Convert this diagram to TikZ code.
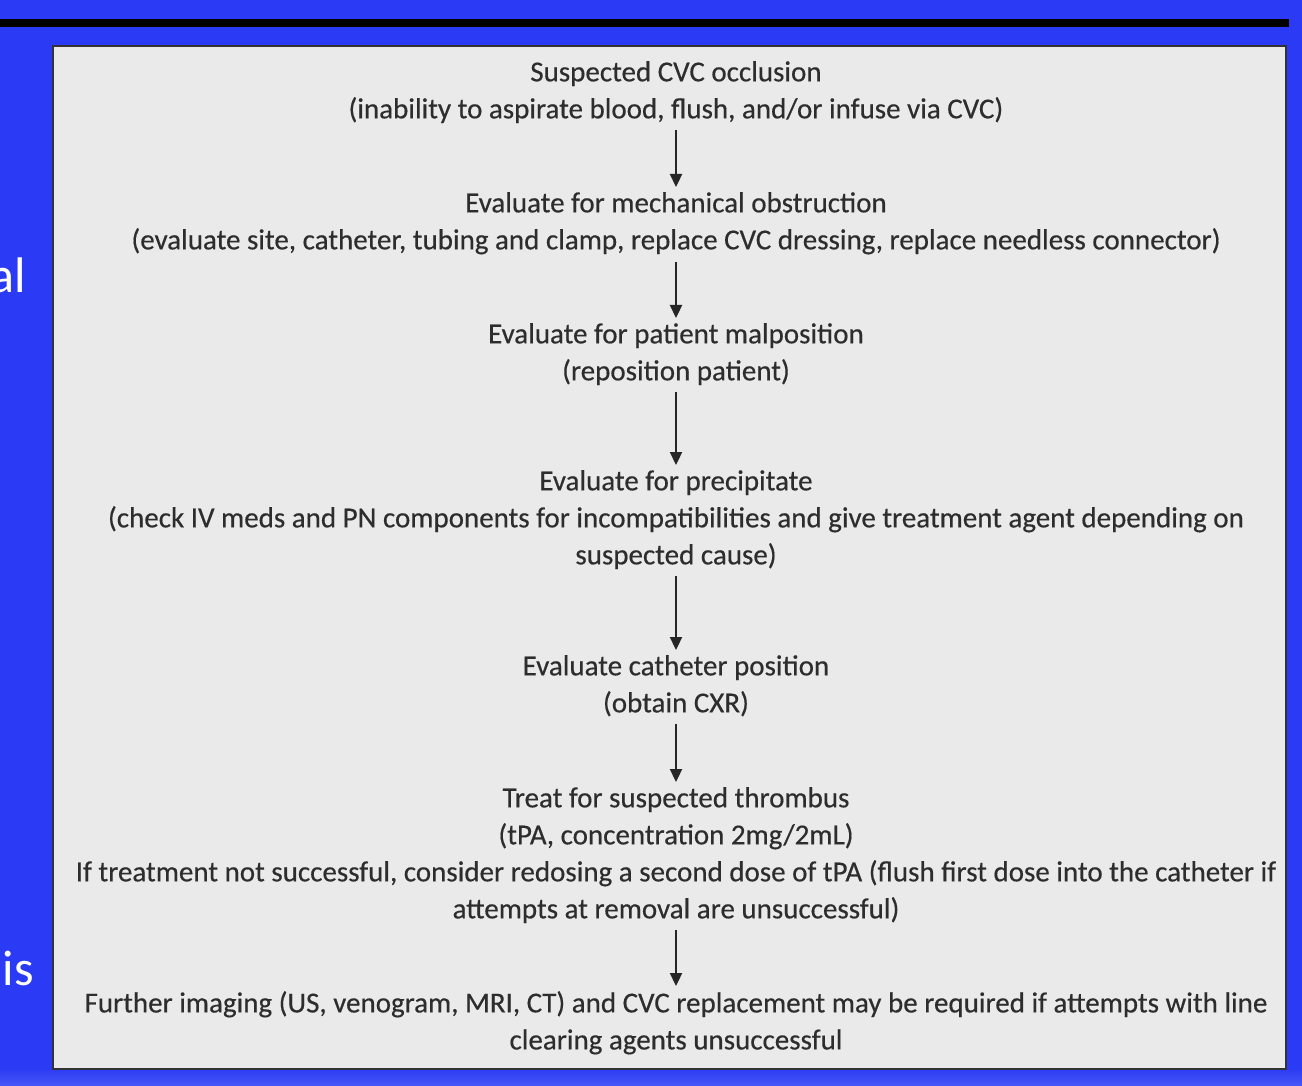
\documentclass[tikz,border=0pt]{standalone}
\usepackage{fontspec}
\setmainfont{Carlito}
\newfontfamily\flowfont[FakeBold=0.4]{Carlito}
\usetikzlibrary{arrows.meta}
\definecolor{bgblue}{RGB}{42,58,245}
\definecolor{bglight}{RGB}{72,88,245}
\definecolor{boxgray}{RGB}{234,234,234}
\definecolor{txtgray}{RGB}{45,45,45}
\begin{document}
\begin{tikzpicture}[x=1pt,y=-1pt,
  txt/.style={anchor=north, inner sep=0pt, align=center, text=txtgray, font=\flowfont\fontsize{29}{37}\selectfont},
  side/.style={anchor=base east, inner sep=0pt, text=white, font=\fontsize{50}{60}\selectfont},
  flow/.style={-{Triangle[length=13pt,width=12pt]}, line width=2.3pt, draw=black!85, shorten <=7pt, shorten >=5pt}]
\fill[bgblue] (0,0) rectangle (1302,1086);
\useasboundingbox (0,0) rectangle (1302,1086);
\shade[top color=bgblue, bottom color=bglight] (0,1068) rectangle (1302,1086);
\fill[black] (0,19) rectangle (1289,27);
\node[side] (s1) at (26,293) {al};
\node[side] (s2) at (3,738) {n};
\node[side] (s3) at (34,985) {is};
\draw[fill=boxgray, draw=black!80, line width=2.5pt] (53,46) rectangle (1286,1069);
\coordinate (ax) at (676,0);
\node[txt] (b1) at (676,61) {Suspected CVC occlusion\\(inability to aspirate blood, flush, and/or infuse via CVC)};
\node[txt] (b2) at (676,192) {Evaluate for mechanical obstruction\\(evaluate site, catheter, tubing and clamp, replace CVC dressing, replace needless connector)};
\node[txt] (b3) at (676,323) {Evaluate for patient malposition\\(reposition patient)};
\node[txt] (b4) at (676,470) {Evaluate for precipitate\\(check IV meds and PN components for incompatibilities and give treatment agent depending on\\suspected cause)};
\node[txt] (b5) at (676,655) {Evaluate catheter position\\(obtain CXR)};
\node[txt] (b6) at (676,787) {Treat for suspected thrombus\\(tPA, concentration 2mg/2mL)\\If treatment not successful, consider redosing a second dose of tPA (flush first dose into the catheter if\\attempts at removal are unsuccessful)};
\node[txt] (b7) at (676,991) {Further imaging (US, venogram, MRI, CT) and CVC replacement may be required if attempts with line\\clearing agents unsuccessful};
\draw[flow] (b1.south -| ax) -- (b2.north -| ax);
\draw[flow] (b2.south -| ax) -- (b3.north -| ax);
\draw[flow] (b3.south -| ax) -- (b4.north -| ax);
\draw[flow] (b4.south -| ax) -- (b5.north -| ax);
\draw[flow] (b5.south -| ax) -- (b6.north -| ax);
\draw[flow] (b6.south -| ax) -- (b7.north -| ax);
\end{tikzpicture}
\end{document}
